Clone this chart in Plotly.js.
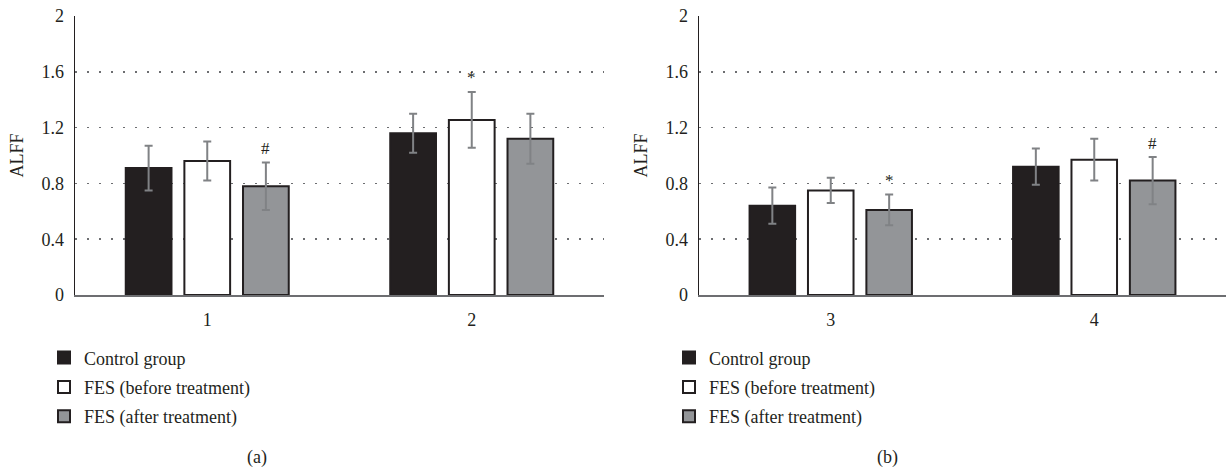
<!DOCTYPE html>
<html>
<head>
<meta charset="utf-8">
<script src="https://cdn.plot.ly/plotly-3.0.1.min.js"></script>
<style>html,body{margin:0;padding:0;background:#fff;}#chart{width:1226px;height:474px;}</style>
</head>
<body>
<div id="chart"></div>
<script>
// ---- data ----
const categoriesA = ['1', '2'];
const categoriesB = ['3', '4'];
const seriesNames = ['Control group', 'FES (before treatment)', 'FES (after treatment)'];

const controlA = [0.91, 1.16];
const controlErrA = [0.16, 0.14];
const beforeA = [0.96, 1.255];
const beforeErrA = [0.14, 0.20];
const afterA = [0.78, 1.12];
const afterErrA = [0.17, 0.18];

const controlB = [0.64, 0.92];
const controlErrB = [0.13, 0.13];
const beforeB = [0.75, 0.97];
const beforeErrB = [0.09, 0.15];
const afterB = [0.61, 0.82];
const afterErrB = [0.11, 0.17];

const controlMarkA = ['', ''];
const beforeMarkA = ['', '*'];
const afterMarkA = ['#', ''];
const controlMarkB = ['', ''];
const beforeMarkB = ['', ''];
const afterMarkB = ['*', '#'];

const yTickVals = [0, 0.4, 0.8, 1.2, 1.6, 2];
const yTickText = ['0', '0.4', '0.8', '1.2', '1.6', '2'];
const yTitle = 'ALFF';
const panelLabels = ['(a)', '(b)'];

// ---- styles ----
const FONT = 'Liberation Serif, Times New Roman, serif';
const FS = 18;
const TXT = '#231f20';
const fills = ['#231f20', '#ffffff', '#939598'];
const outline = '#231f20';
const errColor = '#808285';
const BARGAP = 0.335;

function barTrace(name, cats, vals, errs, k, xa, ya, legendName) {
  return {
    type: 'bar', name: name, x: cats, y: vals,
    xaxis: xa, yaxis: ya, legend: legendName, legendgroup: legendName + k,
    marker: {color: fills[k], line: {color: outline, width: 2}},
    error_y: {type: 'data', array: errs, visible: true, color: errColor, thickness: 2, width: 4},
    hoverinfo: 'skip'
  };
}

const panelA = [[controlA, controlErrA, controlMarkA], [beforeA, beforeErrA, beforeMarkA], [afterA, afterErrA, afterMarkA]];
const panelB = [[controlB, controlErrB, controlMarkB], [beforeB, beforeErrB, beforeMarkB], [afterB, afterErrB, afterMarkB]];

const traces = [];
panelA.forEach((s, k) => traces.push(barTrace(seriesNames[k], categoriesA, s[0], s[1], k, 'x', 'y', 'legend')));
panelB.forEach((s, k) => traces.push(barTrace(seriesNames[k], categoriesB, s[0], s[1], k, 'x2', 'y2', 'legend2')));

// significance marks placed above error bars, at grouped-bar offsets
const slot = (1 - BARGAP) / 3;
const annotations = [];
function addMarks(panel, xref, yref) {
  panel.forEach((s, k) => {
    s[2].forEach((m, i) => {
      if (!m) return;
      annotations.push({
        xref: xref, yref: yref, x: i + (k - 1) * slot, y: s[0][i] + s[1][i],
        text: m, showarrow: false, yanchor: 'bottom', yshift: m === '*' ? 3 : 2,
        font: {family: FONT, size: 17, color: TXT}
      });
    });
  });
}
addMarks(panelA, 'x', 'y');
addMarks(panelB, 'x2', 'y2');

annotations.push({xref: 'paper', yref: 'paper', x: 257 / 1226, y: -0.584, text: panelLabels[0], showarrow: false,
  xanchor: 'center', yanchor: 'middle', font: {family: FONT, size: FS, color: TXT}});
annotations.push({xref: 'paper', yref: 'paper', x: 887 / 1226, y: -0.584, text: panelLabels[1], showarrow: false,
  xanchor: 'center', yanchor: 'middle', font: {family: FONT, size: FS, color: TXT}});

function yAxis(anchor) {
  return {
    anchor: anchor, range: [0, 2], tickvals: yTickVals, ticktext: yTickText,
    showgrid: true, gridcolor: '#6d6e71', gridwidth: 1.5, griddash: '1.5px,10.5px',
    zeroline: false, showline: true, linecolor: '#231f20', linewidth: 1.5,
    ticks: '', ticklabelstandoff: 6,
    tickfont: {family: FONT, size: FS, color: TXT},
    title: {text: yTitle, font: {family: FONT, size: FS, color: TXT}, standoff: 13},
    fixedrange: true
  };
}
function xAxis(anchor, domain) {
  return {
    anchor: anchor, domain: domain, type: 'category', range: [-0.5, 1.5],
    showgrid: false, zeroline: false, showline: true, linecolor: '#6d6e71', linewidth: 2,
    ticks: '', ticklabelstandoff: 7,
    tickfont: {family: FONT, size: FS, color: TXT}, fixedrange: true
  };
}

const legendBase = {
  orientation: 'v', xanchor: 'left', yanchor: 'top',
  font: {family: FONT, size: FS, color: TXT}, bgcolor: 'rgba(0,0,0,0)',
  traceorder: 'grouped', tracegroupgap: 3, itemclick: false, itemdoubleclick: false
};

const layout = {
  width: 1226, height: 474,
  margin: {l: 0, r: 0, t: 16, b: 179, pad: 0},
  paper_bgcolor: '#ffffff', plot_bgcolor: '#ffffff',
  barmode: 'group', bargap: BARGAP, bargroupgap: 0.22,
  showlegend: true,
  xaxis: xAxis('y', [75 / 1226, 604 / 1226]),
  yaxis: yAxis('x'),
  xaxis2: xAxis('y2', [699 / 1226, 1]),
  yaxis2: yAxis('x2'),
  legend: Object.assign({}, legendBase, {x: 44 / 1226, y: -0.159}),
  legend2: Object.assign({}, legendBase, {x: 669 / 1226, y: -0.159}),
  annotations: annotations
};

Plotly.newPlot('chart', traces, layout, {displayModeBar: false, staticPlot: true});
</script>
</body>
</html>
